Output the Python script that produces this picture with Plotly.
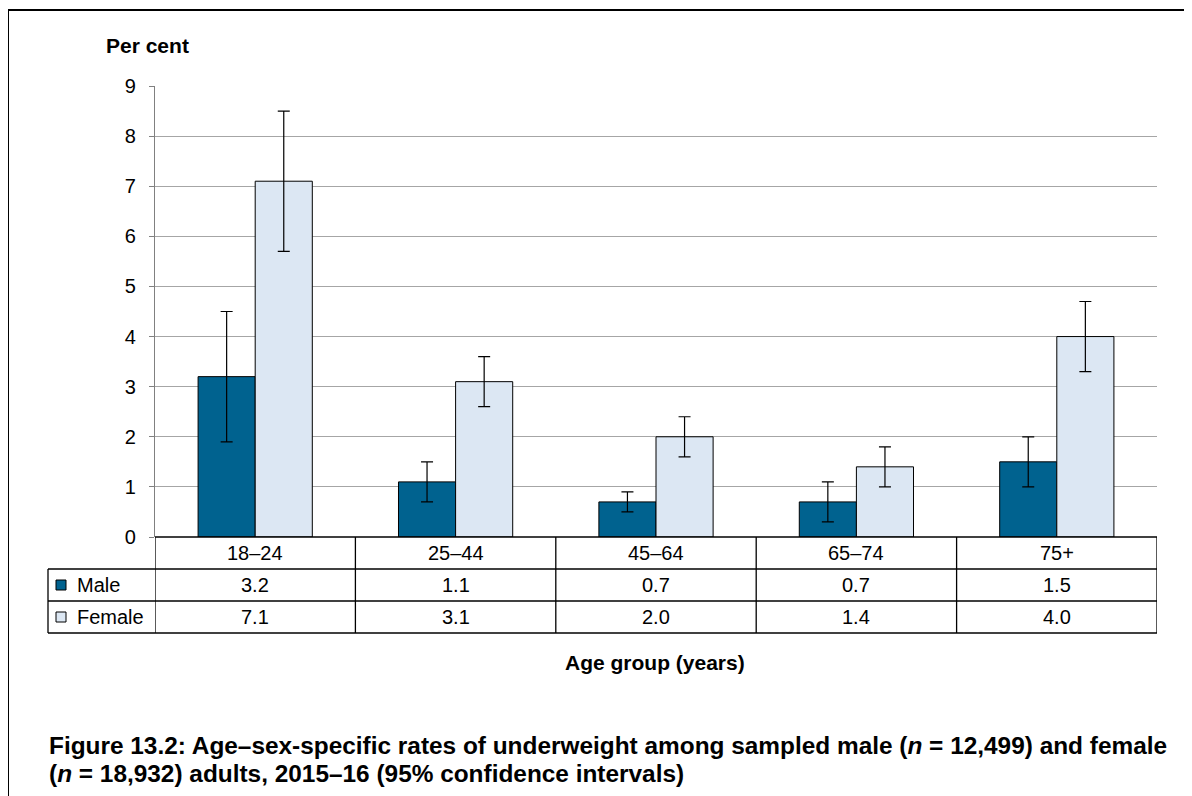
import plotly.graph_objects as go

categories = ["18–24", "25–44", "45–64", "65–74", "75+"]
male = [3.2, 1.1, 0.7, 0.7, 1.5]
male_lo = [1.9, 0.7, 0.5, 0.3, 1.0]
male_hi = [4.5, 1.5, 0.9, 1.1, 2.0]
female = [7.1, 3.1, 2.0, 1.4, 4.0]
female_lo = [5.7, 2.6, 1.6, 1.0, 3.3]
female_hi = [8.5, 3.6, 2.4, 1.8, 4.7]
y_ticks = [0, 1, 2, 3, 4, 5, 6, 7, 8, 9]

MALE_C = "#00628F"
FEMALE_C = "#DCE7F3"
FONT = "Liberation Sans, Arial, sans-serif"

OFF = 8  # page body margin
W, H = 1192 - OFF, 796 - OFF
L, R, T, B = 155 - OFF, 35, 86 - OFF, 259
PH = H - T - B
PW = W - L - R


def py(pix):
    return (H - B - (pix - OFF)) / PH


def px(pix):
    return (pix - OFF - L) / PW


fig = go.Figure()
for name, vals, lo, hi, col in [
    ("Male", male, male_lo, male_hi, MALE_C),
    ("Female", female, female_lo, female_hi, FEMALE_C),
]:
    fig.add_trace(go.Bar(
        x=categories, y=vals, name=name,
        marker=dict(color=col, line=dict(color="#000000", width=1)),
        error_y=dict(type="data", symmetric=False,
                     array=[h - v for h, v in zip(hi, vals)],
                     arrayminus=[v - l for v, l in zip(vals, lo)],
                     color="#000000", thickness=1.2, width=6),
        showlegend=False,
    ))

shapes = []
line = dict(color="#000000", width=1.3)
shapes.append(dict(type="line", xref="paper", yref="paper", x0=0, x1=1, y0=0, y1=0, line=line))
for pix in [569, 601, 633]:
    shapes.append(dict(type="line", xref="paper", yref="paper", x0=px(48), x1=1,
                       y0=py(pix), y1=py(pix), line=line))
shapes.append(dict(type="line", xref="paper", yref="paper", x0=px(48), x1=px(48),
                   y0=py(569), y1=py(633), line=line))
for i in range(len(categories) + 1):
    shapes.append(dict(type="line", xref="x", yref="paper", x0=i - 0.5, x1=i - 0.5,
                       y0=0, y1=py(633), line=line))
for pix, col in [(585, MALE_C), (617, FEMALE_C)]:
    shapes.append(dict(type="rect", xref="paper", yref="paper",
                       x0=px(56), x1=px(66), y0=py(pix - 5), y1=py(pix + 5),
                       fillcolor=col, line=dict(color="#000000", width=1)))
shapes.append(dict(type="line", xref="paper", yref="paper", x0=px(8), x1=px(1210),
                   y0=py(10), y1=py(10), line=dict(color="#000000", width=2)))
shapes.append(dict(type="line", xref="paper", yref="paper", x0=px(8), x1=px(8),
                   y0=py(10), y1=py(810), line=dict(color="#000000", width=2)))

ann = []
tf = dict(family=FONT, size=20, color="#000000")
for i, c in enumerate(categories):
    ann.append(dict(x=c, y=py(553), xref="x", yref="paper", text=c, showarrow=False,
                    font=tf, xanchor="center", yanchor="middle"))
    ann.append(dict(x=c, y=py(585), xref="x", yref="paper", text=f"{male[i]:.1f}",
                    showarrow=False, font=tf, xanchor="center", yanchor="middle"))
    ann.append(dict(x=c, y=py(617), xref="x", yref="paper", text=f"{female[i]:.1f}",
                    showarrow=False, font=tf, xanchor="center", yanchor="middle"))
ann.append(dict(x=px(75), y=py(585), xref="paper", yref="paper", text="Male", showarrow=False,
                font=tf, xanchor="left", yanchor="middle"))
ann.append(dict(x=px(75), y=py(617), xref="paper", yref="paper", text="Female", showarrow=False,
                font=tf, xanchor="left", yanchor="middle"))
bf = dict(family=FONT, size=21, color="#000000")
ann.append(dict(x=px(104), y=py(45), xref="paper", yref="paper", text="<b>Per cent</b>",
                showarrow=False, font=bf, xanchor="left", yanchor="middle"))
ann.append(dict(x=px(655), y=py(662), xref="paper", yref="paper", text="<b>Age group (years)</b>",
                showarrow=False, font=bf, xanchor="center", yanchor="middle"))
cf = dict(family=FONT, size=24.4, color="#000000")
ann.append(dict(x=px(47), y=py(745), xref="paper", yref="paper",
                text="<b>Figure 13.2: Age–sex-specific rates of underweight among sampled male (<i>n</i> = 12,499) and female</b>",
                showarrow=False, font=cf, xanchor="left", yanchor="middle"))
ann.append(dict(x=px(47), y=py(773), xref="paper", yref="paper",
                text="<b>(<i>n</i> = 18,932) adults, 2015–16 (95% confidence intervals)</b>",
                showarrow=False, font=cf, xanchor="left", yanchor="middle"))

fig.update_layout(
    width=W, height=H,
    margin=dict(l=L, r=R, t=T, b=B, autoexpand=False),
    paper_bgcolor="#FFFFFF", plot_bgcolor="#FFFFFF",
    barmode="group", bargap=0.43, bargroupgap=0,
    shapes=shapes, annotations=ann,
    font=dict(family=FONT, size=20, color="#000000"),
    xaxis=dict(type="category", showticklabels=False, ticks="", showgrid=False,
               showline=False, zeroline=False, range=[-0.5, len(categories) - 0.5]),
    yaxis=dict(range=[0, 9], tickvals=y_ticks, ticks="outside", ticklen=5,
               tickcolor="#808080", showline=True, linecolor="#808080", linewidth=1.3,
               showgrid=True, gridcolor="#A6A6A6", gridwidth=1.3, zeroline=False,
               ticklabelstandoff=9,
               tickfont=dict(family=FONT, size=20, color="#000000")),
)

fig.write_html("out.html")
